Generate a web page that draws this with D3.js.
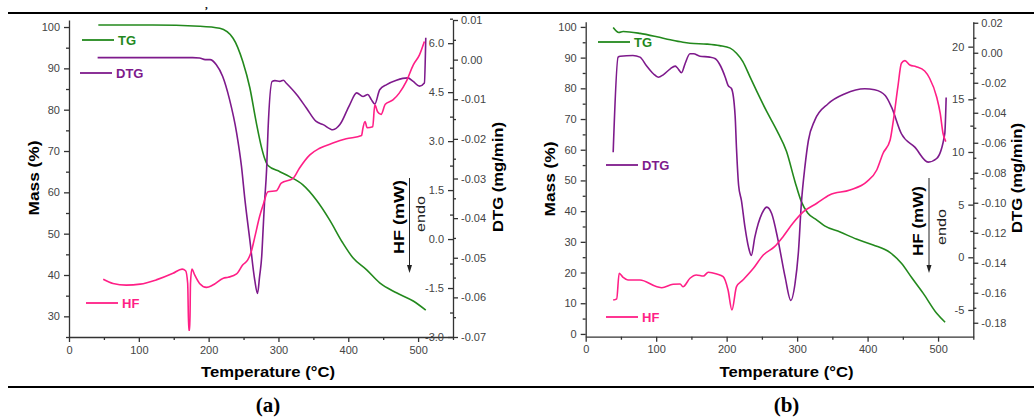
<!DOCTYPE html>
<html lang="en">
<head>
<meta charset="utf-8">
<title>TG / DTG / HF curves</title>
<script src="https://d3js.org/d3.v7.min.js"></script>
<style>
  body { margin: 0; background: #fff; }
  svg text { font-family: "Liberation Sans", Arial, sans-serif; }
  .tick text { fill: #444; font-size: 11px; }
  .domain, .tick line { stroke: #333; stroke-width: 1.3px; }
</style>
</head>
<body>
<div id="chart"></div>
<script>
// ---- data: [temperature (°C), value] ----
const tempTicks = [0, 100, 200, 300, 400, 500];
const tempMinor = [50, 150, 250, 350, 450, 550];

// panel (a)
const massTicksA = [30, 40, 50, 60, 70, 80, 90, 100];
const dtgTicksA = [-0.07, -0.06, -0.05, -0.04, -0.03, -0.02, -0.01, 0.00, 0.01];
const hfTicksA = [-3.0, -1.5, 0.0, 1.5, 3.0, 4.5, 6.0];

const tgA = [[42,100.5],[120,100.5],[187,100.2],[216,99.7],[235,97.3],[249,91.6],[259,85.3],[268,77.1],
  [276,70.7],[280,68.3],[285,66.5],[302,65.0],[316,63.8],[335,61.8],[354,58.2],[373,53.4],[392,47.8],
  [407,44.1],[426,41.3],[445,38.1],[469,35.7],[493,33.7],[511,31.5]];

const dtgA = [[41,0.0005],[177,0.0005],[187,0.0004],[195,0],[202,0],[211,-0.0013],[220,-0.0042],
  [230,-0.0101],[240,-0.0184],[247,-0.0269],[252,-0.0354],[259,-0.0455],[266,-0.0556],[270,-0.0590],
  [273,-0.0547],[276,-0.0497],[278,-0.0429],[280,-0.0362],[283,-0.0278],[285,-0.0181],[291,-0.0055],
  [295,-0.0053],[302,-0.0055],[307,-0.0052],[311,-0.0059],[326,-0.0088],[340,-0.0122],[354,-0.0156],
  [364,-0.0164],[378,-0.0177],[388,-0.0164],[402,-0.0114],[412,-0.0084],[421,-0.0093],[428,-0.0088],
  [433,-0.0101],[438,-0.0112],[445,-0.0076],[455,-0.0063],[469,-0.0052],[485,-0.0046],[493,-0.0055],
  [502,-0.0067],[509,-0.0059],[511,0.0055]];

const hfA = [[49,-1.23],[63,-1.36],[82,-1.41],[102,-1.38],[125,-1.25],[149,-1.05],[162,-0.92],[167,-0.97],
  [170,-1.36],[171.5,-2.79],[173,-2.79],[174,-1.36],[176,-0.92],[180,-1.10],[187,-1.36],[197,-1.48],
  [206,-1.41],[221,-1.20],[228,-1.17],[240,-1.07],[249,-0.79],[256,-0.64],[261,-0.39],[266,0.05],
  [273,0.69],[278,1.04],[285,1.45],[297,1.48],[304,1.71],[321,1.86],[330,2.17],[345,2.58],[359,2.78],
  [378,2.94],[397,3.07],[419,3.17],[421,3.40],[424,3.60],[427,3.41],[435,3.44],[438,4.11],[442,3.90],
  [447,3.82],[453,4.13],[464,4.26],[473,4.47],[483,4.82],[493,5.33],[502,5.64],[509,6.05]];

// panel (b)
const massTicksB = [0, 10, 20, 30, 40, 50, 60, 70, 80, 90, 100];
const dtgTicksB = [-0.18, -0.16, -0.14, -0.12, -0.10, -0.08, -0.06, -0.04, -0.02, 0.00, 0.02];
const hfTicksB = [-5, 0, 5, 10, 15, 20];

const tgB = [[39,99.8],[47,98.2],[53,98.5],[77,97.9],[101,96.8],[120,95.8],[138,95.0],[148,94.7],
  [172,94.4],[190,93.9],[205,93.1],[214,91.4],[223,88.7],[233,83.8],[243,78.9],[257,72.4],[271,66.4],
  [285,59.4],[297,49.6],[306,43.1],[315,39.4],[328,37.1],[339,35.2],[361,33.2],[384,30.9],[408,29.0],
  [432,26.5],[448,23.0],[463,18.2],[479,13.2],[498,6.7],[510,3.8]];

const dtgB = [[39,-0.0663],[46,-0.0029],[49,-0.0023],[67,-0.0018],[77,-0.0029],[86,-0.0085],[96,-0.0140],
  [103,-0.0163],[110,-0.0147],[120,-0.0107],[127,-0.0089],[130,-0.0100],[136,-0.0133],[141,-0.0073],
  [148,-0.0007],[153,-0.0007],[162,-0.0023],[176,-0.0029],[184,-0.0040],[191,-0.0085],[198,-0.0163],
  [202,-0.0218],[207,-0.0240],[212,-0.0418],[214,-0.0640],[217,-0.0885],[221,-0.0985],[226,-0.1163],
  [231,-0.1296],[235,-0.1351],[240,-0.1229],[250,-0.1073],[257,-0.1029],[264,-0.1073],[273,-0.1251],
  [283,-0.1496],[291,-0.1651],[297,-0.1540],[302,-0.1318],[306,-0.1005],[311,-0.0763],[316,-0.0585],
  [325,-0.0451],[344,-0.0340],[368,-0.0273],[396,-0.0240],[410,-0.0247],[425,-0.0285],[434,-0.0363],
  [448,-0.0540],[467,-0.0629],[486,-0.0729],[498,-0.0705],[509.5,-0.0540],[511.5,-0.0298]];

const hfB = [[39,-4.06],[44,-3.94],[47.5,-1.52],[53,-1.90],[60,-2.16],[77,-2.16],[101,-2.80],[108,-2.89],
  [124,-2.56],[134,-2.54],[138,-2.80],[148,-1.99],[157,-1.68],[167,-1.78],[174,-1.42],[186,-1.59],
  [195,-1.84],[202,-3.11],[207.5,-5.00],[214,-2.79],[223,-2.16],[238,-1.04],[252,0.22],[268,1.01],
  [280,1.96],[294,3.23],[309,4.33],[328,5.13],[346,5.92],[375,6.39],[399,7.18],[413,8.29],[422,9.88],
  [432,11.14],[436,12.73],[443,16.20],[448,18.42],[453,18.67],[460,18.26],[469,18.10],[481,17.69],
  [488,17.00],[498,15.22],[503,13.68],[507,11.78],[511,10.98]];

// ---- drawing ----
const W = 1034, H = 417;
const green = "#23891d", purple = "#7e1a8c", pink = "#ff1f86";

const svg = d3.select("#chart").append("svg")
  .attr("width", W).attr("height", H);

// top / bottom rules and stray comma from the page above
svg.append("line").attr("x1", 8).attr("x2", W).attr("y1", 13).attr("y2", 13)
  .attr("stroke", "#000").attr("stroke-width", 2);
svg.append("line").attr("x1", 8).attr("x2", W).attr("y1", 387).attr("y2", 387)
  .attr("stroke", "#000").attr("stroke-width", 2);
svg.append("text").attr("x", 205).attr("y", 9).style("font-family", "Liberation Serif, serif")
  .style("font-size", "11px").style("font-weight", "bold").text(",");

const fmt1 = d => d.toFixed(1);
const fmt2 = d => d.toFixed(2);
const fmt0 = d => String(d);

function midTicks(ticks) {
  const out = [];
  for (let i = 0; i < ticks.length - 1; i++) out.push((ticks[i] + ticks[i + 1]) / 2);
  return out;
}

// rotated bold axis title stretched to the length it has in the figure
function vTitle(g, x, y, txt, len, size, bold) {
  return g.append("text").attr("transform", `translate(${x},${y}) rotate(-90)`)
    .attr("text-anchor", "middle").attr("textLength", len).attr("lengthAdjust", "spacingAndGlyphs")
    .style("font-size", size + "px").style("font-weight", bold ? "bold" : "normal").text(txt);
}

function drawPanel(p) {
  const x = d3.scaleLinear().domain([0, 550]).range([p.left, p.right]);
  const yM = d3.scaleLinear().domain(p.massDom).range([p.bottom, p.top]);
  const yD = d3.scaleLinear().domain(p.dtgDom).range([p.bottom, p.top]);
  const yH = d3.scaleLinear().domain(p.hfDom).range([p.bottom, p.top]);

  const g = svg.append("g");

  // minor ticks
  g.append("g").attr("transform", `translate(0,${p.bottom})`)
    .call(d3.axisBottom(x).tickValues(tempMinor).tickSize(3).tickFormat(""))
    .select(".domain").remove();
  g.append("g").attr("transform", `translate(${p.left},0)`)
    .call(d3.axisLeft(yM).tickValues(midTicks(p.massTicks).concat([p.massTicks[0] - 5]).filter(v => v >= p.massDom[0])).tickSize(3).tickFormat(""))
    .select(".domain").remove();
  g.append("g").attr("transform", `translate(${p.right},0)`)
    .call(d3.axisRight(yD).tickValues(midTicks(p.dtgTicks)).tickSize(3).tickFormat(""))
    .select(".domain").remove();
  g.append("g").attr("transform", `translate(${p.right},0)`)
    .call(d3.axisLeft(yH).tickValues(midTicks(p.hfTicks).concat(p.hfExtraMinor)).tickSize(3).tickFormat(""))
    .select(".domain").remove();

  // major axes
  g.append("g").attr("transform", `translate(0,${p.bottom})`)
    .call(d3.axisBottom(x).tickValues(tempTicks).tickSize(5).tickSizeOuter(0).tickPadding(4));
  g.append("g").attr("transform", `translate(${p.left},0)`)
    .call(d3.axisLeft(yM).tickValues(p.massTicks).tickSize(5).tickSizeOuter(0).tickPadding(4));
  g.append("g").attr("transform", `translate(${p.right},0)`)
    .call(d3.axisRight(yD).tickValues(p.dtgTicks).tickFormat(fmt2).tickSize(5).tickSizeOuter(0).tickPadding(3));
  g.append("g").attr("transform", `translate(${p.right},0)`)
    .call(d3.axisLeft(yH).tickValues(p.hfTicks).tickFormat(p.hfFmt).tickSize(5).tickSizeOuter(0).tickPadding(4))
    .select(".domain").remove();

  // curves
  const line = yScale => d3.line().x(d => x(d[0])).y(d => yScale(d[1])).curve(d3.curveMonotoneX);
  g.append("path").datum(p.tg).attr("d", line(yM)).attr("fill", "none").attr("stroke", green).attr("stroke-width", 1.6);
  g.append("path").datum(p.dtg).attr("d", line(yD)).attr("fill", "none").attr("stroke", purple).attr("stroke-width", 1.6);
  g.append("path").datum(p.hf).attr("d", line(yH)).attr("fill", "none").attr("stroke", pink).attr("stroke-width", 1.6);

  // legend
  p.legend.forEach(l => {
    g.append("line").attr("x1", l.x).attr("x2", l.x + 32).attr("y1", l.y).attr("y2", l.y)
      .attr("stroke", l.color).attr("stroke-width", 1.8);
    g.append("text").attr("x", l.x + 36).attr("y", l.y + 5).attr("fill", l.color)
      .style("font-size", "13px").style("font-weight", "bold").text(l.label);
  });

  // axis titles
  vTitle(g, p.massLabelX, p.massY, "Mass (%)", 75, 15, true);
  vTitle(g, p.dtgLabelX, p.dtgY, "DTG (mg/min)", 110, 15, true);
  g.append("text").attr("x", (p.left + p.right) / 2 + 7).attr("y", 377)
    .attr("text-anchor", "middle").attr("textLength", 134).attr("lengthAdjust", "spacingAndGlyphs")
    .style("font-size", "15px").style("font-weight", "bold").text("Temperature (°C)");

  // HF label with endo arrow
  vTitle(g, p.hfLabelX, p.hfY, "HF (mW)", p.hfLen, 15, true);
  vTitle(g, p.endoX, p.endoY, "endo", 36, 13, false).attr("fill", "#222");
  g.append("line").attr("x1", p.barX).attr("x2", p.barX).attr("y1", p.barTop).attr("y2", p.barTip - 6)
    .attr("stroke", "#222").attr("stroke-width", 1);
  g.append("path")
    .attr("d", `M${p.barX - 2.5},${p.barTip - 8} L${p.barX + 2.5},${p.barTip - 8} L${p.barX},${p.barTip} Z`)
    .attr("fill", "#222");

  // panel caption
  svg.append("text").attr("x", (p.left + p.right) / 2 + 7).attr("y", 412).attr("text-anchor", "middle")
    .style("font-family", "Liberation Serif, serif").style("font-size", "21px").style("font-weight", "bold")
    .text(p.caption);
}

drawPanel({
  left: 69, right: 453, top: 20, bottom: 337,
  massDom: [25, 101.7], dtgDom: [-0.07, 0.01], hfDom: [-3, 6.71],
  massTicks: massTicksA, dtgTicks: dtgTicksA, hfTicks: hfTicksA, hfFmt: fmt1, hfExtraMinor: [6.75],
  tg: tgA, dtg: dtgA, hf: hfA,
  legend: [
    { x: 82, y: 40, color: green, label: "TG" },
    { x: 80, y: 73, color: purple, label: "DTG" },
    { x: 86, y: 303, color: pink, label: "HF" }
  ],
  massLabelX: 39, massY: 178, dtgLabelX: 503, dtgY: 177,
  hfLabelX: 404, hfY: 217, hfLen: 74,
  endoX: 425, endoY: 214,
  barX: 409.5, barTop: 178, barTip: 273,
  caption: "(a)"
});

drawPanel({
  left: 585.7, right: 973.3, top: 21.7, bottom: 336.7,
  massDom: [-0.9, 101.7], dtgDom: [-0.1893, 0.0207], hfDom: [-7.54, 22.37],
  massTicks: massTicksB, dtgTicks: dtgTicksB, hfTicks: hfTicksB, hfFmt: fmt0, hfExtraMinor: [],
  tg: tgB, dtg: dtgB, hf: hfB,
  legend: [
    { x: 598, y: 42, color: green, label: "TG" },
    { x: 606, y: 165, color: purple, label: "DTG" },
    { x: 606, y: 317, color: pink, label: "HF" }
  ],
  massLabelX: 555, massY: 179, dtgLabelX: 1022, dtgY: 178,
  hfLabelX: 923, hfY: 221, hfLen: 70,
  endoX: 946, endoY: 227,
  barX: 929, barTop: 178, barTip: 273,
  caption: "(b)"
});
</script>
</body>
</html>
